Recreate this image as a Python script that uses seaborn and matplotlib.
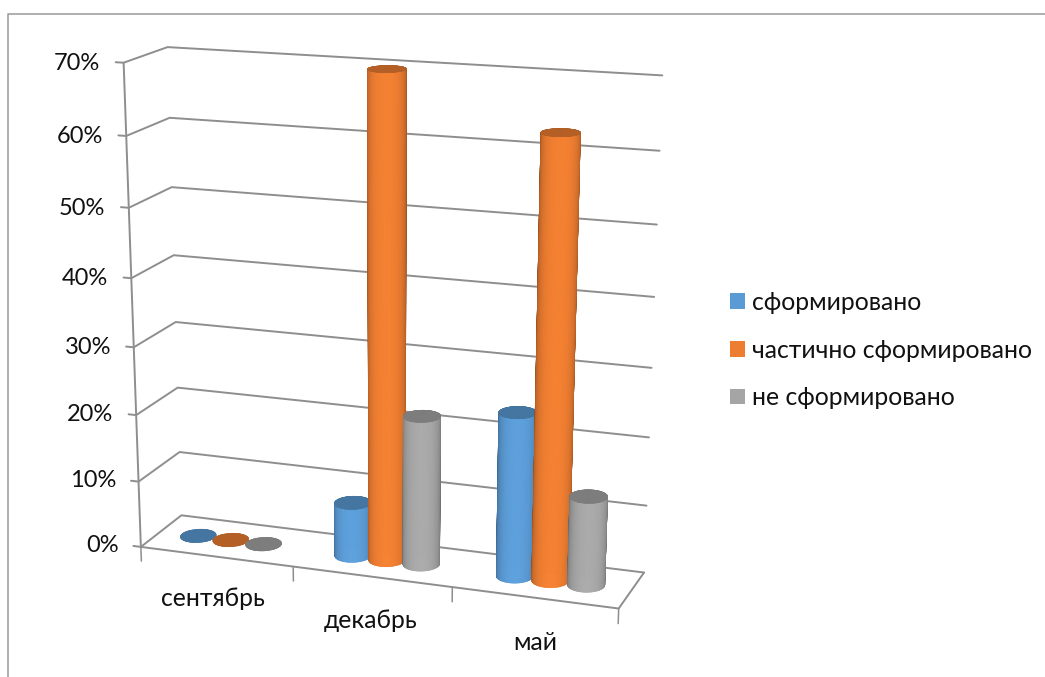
import numpy as np
import pandas as pd
import matplotlib
matplotlib.use('Agg')
import matplotlib.pyplot as plt
from matplotlib.lines import Line2D
from matplotlib.patches import Patch
from mpl_toolkits.mplot3d import proj3d
import seaborn as sns

months = ['сентябрь', 'декабрь', 'май']
series_names = ['сформировано', 'частично сформировано', 'не сформировано']
formed = [0.0, 0.08, 0.24]
partial = [0.0, 0.70, 0.63]
not_formed = [0.0, 0.22, 0.13]
percent_ticks = [0.0, 0.1, 0.2, 0.3, 0.4, 0.5, 0.6, 0.7]
colors = ['#5B9BD5', '#ED7D31', '#A5A5A5']

sns.set_theme(style='white')
plt.rcParams['font.family'] = ['Lato', 'Open Sans', 'DejaVu Sans']

df = pd.DataFrame({'month': months, series_names[0]: formed,
                   series_names[1]: partial, series_names[2]: not_formed})
df = df.melt(id_vars='month', var_name='series', value_name='share')
palette = dict(zip(series_names, sns.color_palette(colors)))

GRID = '#8E8E8E'
TEXT = '#111111'
FS = 17.8
AZIM = -70.5

W, H = 1045, 677
SIDE = 1400
CX, CY = 370, 499   # where the centre of the 3d box lands, pixels

fig = plt.figure(figsize=(W / 100, H / 100), dpi=100)
ax = fig.add_axes([(CX - SIDE / 2) / W, (H - CY - SIDE / 2) / H, SIDE / W, SIDE / H],
                  projection='3d', computed_zorder=False)
ax.patch.set_alpha(0)
ax.set_proj_type('persp', focal_length=0.32)
ax.view_init(elev=19, azim=AZIM)
ax.set_axis_off()
ax.set_xlim(0, 3)
ax.set_ylim(0, 1)
ax.set_zlim(-0.46, 0.7)
ax.set_box_aspect((517, 104, 843), zoom=0.672)

depth = 104 / 517 * 3    # floor depth in category units
rx = 0.108
ry = 1.1 * rx / depth
spacing = 0.218
centre = 0.47
pitch = 1.02
ymid = 0.49


def label(x, y, z, s, **kw):
    # place text at a 3d location but keep it as plain 2d text
    x2, y2, _ = proj3d.proj_transform(x, y, z, ax.get_proj())
    ax.text2D(x2, y2, s, transform=ax.transData, va='center', color=TEXT, **kw)


def draw_cylinder(cx, height, color, order):
    rgb = np.array(color)
    th = np.linspace(0, 2 * np.pi, 145)
    if height > 0:
        xs = cx + rx * np.cos(th)
        ys = ymid + ry * np.sin(th)
        X = np.array([xs, xs])
        Y = np.array([ys, ys])
        Z = np.array([np.zeros_like(th), np.full_like(th, height)])
        mid = th[:-1] + np.pi / 144
        facing = np.clip(np.cos(mid - np.radians(AZIM)), 0, 1)
        shade = 0.60 + 0.44 * facing ** 0.6
        face = np.clip(rgb[None, :] * shade[:, None], 0, 1)
        face = np.column_stack([face, np.ones(len(face))])[None, :, :]
        body = ax.plot_surface(X, Y, Z, facecolors=face, rstride=1, cstride=1, shade=False,
                               linewidth=0.5, antialiased=True, zorder=order)
        body.set_snap(False)
    T, R = np.meshgrid(th, np.array([0, 1]))
    cap = ax.plot_surface(cx + rx * R * np.cos(T), ymid + ry * R * np.sin(T), np.full_like(T, height),
                          color=tuple(rgb * 0.76), shade=False, linewidth=0.5, antialiased=True,
                          rstride=1, cstride=1, zorder=order + 0.5)
    cap.set_edgecolor(tuple(rgb * 0.76))
    cap.set_snap(False)


# walls and floor
top = percent_ticks[-1]
for p in percent_ticks:
    ax.plot([-0.05, 0, 0, 3], [0, 0, 1, 1], [p, p, p, p], color=GRID, lw=1.4, zorder=1)
    label(-0.15, 0, p - 0.003, f'{p:.0%}', ha='right', fontsize=17)
ax.plot([0, 0], [0, 0], [0, top], color=GRID, lw=1.4, zorder=1)
ax.plot([0, 3, 3], [0, 0, 1], [0, 0, 0], color=GRID, lw=1.4, zorder=1)
for i in range(4):
    ax.plot([i, i], [0, 0], [0, -0.022], color=GRID, lw=1.1, zorder=1)
for i, m in enumerate(months):
    label(i * pitch + centre, 0, -0.066, m, ha='center', fontsize=FS)

order = 2
for i, m in enumerate(months):
    for j, s in enumerate(series_names):
        val = df[(df['month'] == m) & (df['series'] == s)]['share'].iloc[0]
        draw_cylinder(i * pitch + centre + (j - 1) * spacing, val, palette[s], order)
        order += 1

ax.set_xlim(0, 3)
ax.set_ylim(0, 1)
ax.set_zlim(-0.46, 0.7)

handles = [Patch(facecolor=palette[s], edgecolor='none') for s in series_names]
fig.legend(handles, series_names, loc='center left', bbox_to_anchor=(0.6775, 0.483),
           frameon=False, fontsize=FS, handlelength=0.6, handleheight=0.6,
           handletextpad=0.28, labelspacing=1.0, labelcolor=TEXT)

# picture frame
fig.add_artist(Line2D([8 / W, 8 / W, 1], [0, 1 - 13.5 / H, 1 - 13.5 / H],
                      color='#9A9A9A', lw=1.1))

fig.savefig('out.png', dpi=100)
